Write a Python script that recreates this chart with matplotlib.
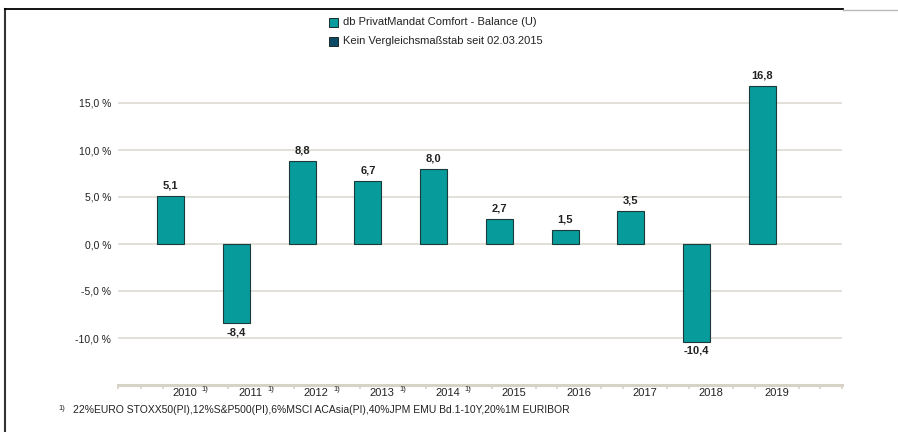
import numpy as np
import matplotlib.pyplot as plt
from matplotlib.patches import Rectangle
from matplotlib.lines import Line2D

plt.rcParams['font.family'] = ['Liberation Sans', 'DejaVu Sans']

# data
years = ['2010', '2011', '2012', '2013', '2014', '2015', '2016', '2017', '2018', '2019']
returns = [5.1, -8.4, 8.8, 6.7, 8.0, 2.7, 1.5, 3.5, -10.4, 16.8]
footnoted = [True, True, True, True, True, False, False, False, False, False]
y_ticks = [-10, -5, 0, 5, 10, 15]
legend_labels = ['db PrivatMandat Comfort - Balance (U)', 'Kein Vergleichsmaßstab seit 02.03.2015']
footnote = '22%EURO STOXX50(PI),12%S&P500(PI),6%MSCI ACAsia(PI),40%JPM EMU Bd.1-10Y,20%1M EURIBOR'

teal = '#079b9b'
navy = '#0d4a66'
edge = '#1d3a3a'
grid_c = '#e0ddd5'
axis_c = '#d6d2c6'
txt = '#222222'

W, H = 898, 432
fig = plt.figure(figsize=(W / 100, H / 100), dpi=100)
ax = fig.add_axes([118 / W, (H - 385) / H, 724 / W, (385 - 56) / H])

x = np.arange(len(years))
ax.bar(x, returns, width=0.41, color=teal, edgecolor=edge, linewidth=0.8, zorder=3)

for xi, v in zip(x, returns):
    lab = f'{v:.1f}'.replace('.', ',')
    if v >= 0:
        ax.annotate(lab, (xi, v), xytext=(0, 4), textcoords='offset points',
                    ha='center', va='bottom', fontsize=8, fontweight='bold', color=txt)
    else:
        ax.annotate(lab, (xi, v), xytext=(0, -3), textcoords='offset points',
                    ha='center', va='top', fontsize=8, fontweight='bold', color=txt)

ax.set_xlim(-0.80, 10.21)
ax.set_ylim(-15, 20)
ax.set_yticks(y_ticks)
ax.set_yticklabels([f'{t:.1f} %'.replace('.', ',') for t in y_ticks], fontsize=7.5, color=txt)
ax.tick_params(axis='y', length=0, pad=5)
ax.yaxis.grid(True, color=grid_c, linewidth=1.3, zorder=0)
ax.set_axisbelow(True)

tick_pos = [-0.80]
for i in range(-1, len(years)):
    tick_pos += [i + 0.55, i + 0.88]
tick_pos = [t for t in tick_pos if t >= -0.80] + [10.21]
ax.set_xticks(tick_pos)
ax.set_xticklabels([])
ax.tick_params(axis='x', length=3, width=1.2, color=axis_c, direction='out')

for s in ['left', 'top', 'right']:
    ax.spines[s].set_visible(False)
ax.spines['bottom'].set_color(axis_c)
ax.spines['bottom'].set_linewidth(2.2)

# category labels, centred between the tick pairs
trans = ax.get_xaxis_transform()
for xi, yr, fn in zip(x, years, footnoted):
    ax.text(xi + 0.215, -0.008, yr, transform=trans, ha='center', va='top',
            fontsize=8, color=txt)
    if fn:
        ax.text(xi + 0.215 + 0.26, -0.004, '1)', transform=trans, ha='left', va='top',
                fontsize=5.5, color=txt)

# legend
for k, (lab, col) in enumerate(zip(legend_labels, [teal, navy])):
    yc = 22 + 19 * k
    fig.patches.append(Rectangle((329 / W, (H - yc - 4.5) / H), 8.5 / W, 8.5 / H,
                                 transform=fig.transFigure, facecolor=col,
                                 edgecolor='#1a2a2a', linewidth=0.7))
    fig.text(343 / W, (H - yc) / H, lab, ha='left', va='center', fontsize=8, color=txt)

# footnote
fig.text(58 / W, (H - 408) / H, '1)', ha='left', va='center', fontsize=5.5, color=txt)
fig.text(73 / W, (H - 410) / H, footnote, ha='left', va='center', fontsize=7.5, color=txt)

# frame lines
fig.add_artist(Line2D([5 / W, 5 / W], [0, (H - 9) / H], transform=fig.transFigure,
                      color='#333333', linewidth=1.5))
fig.add_artist(Line2D([5 / W, 843 / W], [(H - 9) / H, (H - 9) / H], transform=fig.transFigure,
                      color='black', linewidth=1.3))
fig.add_artist(Line2D([843 / W, 1], [(H - 10) / H, (H - 10) / H], transform=fig.transFigure,
                      color='#bbbbbb', linewidth=1.0))

fig.savefig('out.png', dpi=100)
